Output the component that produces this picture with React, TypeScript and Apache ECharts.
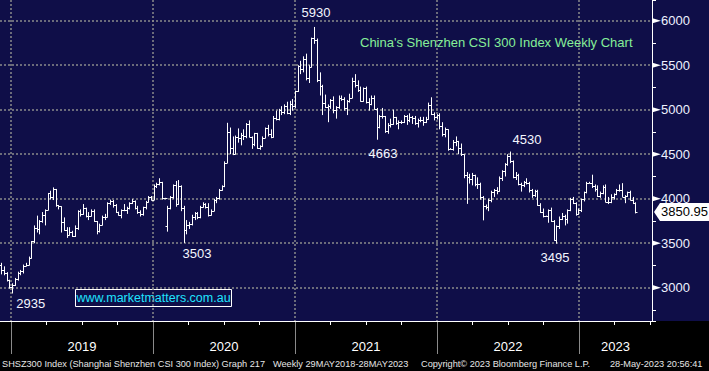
import React, { useEffect, useRef } from "react";
import * as echarts from "echarts";

// Weekly bars: [open, high, low, close], weeks ending on Fridays starting 2018-12-07
const START_DATE = "2018-12-07";

const bars2018 = [
  [3250, 3280, 3150, 3203], [3203, 3240, 3140, 3165], [3165, 3175, 3070, 3083], [3083, 3090, 2990, 3011],
];

const bars2019 = [
  [3011, 3050, 2935, 3035], [3035, 3110, 3020, 3094], [3094, 3180, 3080, 3168], [3168, 3200, 3140, 3184],
  [3184, 3260, 3160, 3247], [3247, 3280, 3240, 3260], [3260, 3350, 3250, 3338], [3338, 3525, 3330, 3520],
  [3520, 3700, 3500, 3670], [3670, 3810, 3620, 3657], [3657, 3760, 3600, 3745], [3745, 3850, 3730, 3820],
  [3820, 3880, 3700, 3872], [3872, 4065, 3870, 4062], [4062, 4090, 3990, 4016], [4016, 4127, 3985, 4105],
  [4105, 4110, 3910, 3929], [3929, 3930, 3880, 3913], [3913, 3915, 3620, 3734], [3734, 3790, 3640, 3648],
  [3648, 3680, 3560, 3593], [3593, 3680, 3590, 3630], [3630, 3640, 3570, 3579], [3579, 3700, 3570, 3668],
  [3668, 3870, 3650, 3858], [3858, 3880, 3800, 3826], [3826, 3940, 3820, 3893], [3893, 3900, 3790, 3808],
  [3808, 3850, 3760, 3808], [3808, 3880, 3800, 3858], [3858, 3880, 3740, 3747], [3747, 3750, 3600, 3633],
  [3633, 3720, 3620, 3710], [3710, 3810, 3700, 3800], [3800, 3830, 3760, 3799], [3799, 3960, 3795, 3948],
  [3948, 3990, 3930, 3972], [3972, 3985, 3900, 3935], [3935, 3940, 3840, 3852], [3852, 3855, 3810, 3814],
  [3814, 3880, 3780, 3874], [3874, 3940, 3860, 3869], [3869, 3910, 3830, 3896], [3896, 3960, 3880, 3952],
  [3952, 3995, 3940, 3974], [3974, 3980, 3880, 3891], [3891, 3920, 3830, 3849], [3849, 3870, 3800, 3828],
  [3828, 3910, 3810, 3902], [3902, 3975, 3880, 3968], [3968, 4030, 3960, 4017], [4017, 4030, 3980, 3990],
];

const bars2020 = [
  [3990, 4160, 3985, 4144], [4144, 4180, 4120, 4164], [4164, 4230, 4150, 4186], [4186, 4190, 3990, 4003],
  [4003, 4010, 3995, 4003], [3690, 3920, 3630, 3899], [3899, 4030, 3880, 4016], [4016, 4160, 4000, 4149],
  [4149, 4200, 3910, 3940], [3940, 4210, 3930, 4138], [4138, 4150, 3860, 3895], [3895, 3920, 3503, 3653],
  [3653, 3760, 3600, 3710], [3710, 3740, 3660, 3713], [3713, 3820, 3700, 3796], [3796, 3850, 3760, 3839],
  [3839, 3850, 3770, 3796], [3796, 3920, 3780, 3912], [3912, 3960, 3900, 3937], [3937, 3950, 3890, 3912],
  [3912, 3950, 3800, 3820], [3820, 3880, 3810, 3867], [3867, 4000, 3860, 3990], [3990, 4020, 3950, 4003],
  [4003, 4110, 3990, 4098], [4098, 4150, 4090, 4138], [4138, 4420, 4130, 4404], [4404, 4853, 4400, 4747],
  [4747, 4800, 4500, 4570], [4570, 4700, 4490, 4505], [4505, 4710, 4500, 4695], [4695, 4790, 4630, 4680],
  [4680, 4740, 4600, 4714], [4714, 4780, 4660, 4705], [4705, 4850, 4680, 4845], [4845, 4880, 4690, 4698],
  [4698, 4700, 4560, 4617], [4617, 4740, 4590, 4735], [4735, 4740, 4560, 4570], [4570, 4600, 4550, 4588],
  [4588, 4700, 4580, 4681], [4681, 4800, 4680, 4792], [4792, 4830, 4700, 4722], [4722, 4780, 4680, 4695],
  [4695, 4930, 4690, 4912], [4912, 4990, 4880, 4901], [4901, 5010, 4880, 4998], [4998, 5040, 4940, 4980],
  [4980, 5060, 4950, 5047], [5047, 5090, 4950, 4963], [4963, 5100, 4940, 5065], [5065, 5120, 4990, 5042],
];

const bars2021 = [
  [5042, 5215, 5020, 5211], [5211, 5500, 5200, 5495], [5495, 5550, 5400, 5458], [5458, 5600, 5420, 5569],
  [5569, 5630, 5330, 5352], [5352, 5500, 5300, 5483], [5483, 5810, 5480, 5808], [5808, 5930, 5740, 5779],
  [5779, 5800, 5310, 5336], [5336, 5420, 5160, 5262], [5262, 5280, 4940, 5080], [5080, 5170, 5020, 5035],
  [5035, 5060, 4860, 5037], [5037, 5120, 5010, 5108], [5108, 5150, 4960, 4994], [4994, 5040, 4900, 5029],
  [5029, 5160, 5010, 5135], [5135, 5160, 5100, 5123], [5123, 5140, 4990, 5014], [5014, 5110, 4940, 5100],
  [5100, 5180, 5080, 5135], [5135, 5360, 5130, 5321], [5321, 5400, 5250, 5283], [5283, 5330, 5200, 5224],
  [5224, 5260, 5090, 5102], [5102, 5250, 5090, 5240], [5240, 5260, 5070, 5082], [5082, 5130, 4990, 5069],
  [5069, 5160, 5050, 5135], [5135, 5160, 5000, 5012], [5012, 5020, 4663, 4811], [4811, 4940, 4790, 4927],
  [4927, 5020, 4900, 4925], [4925, 4930, 4740, 4763], [4763, 4850, 4730, 4828], [4828, 4900, 4800, 4842],
  [4842, 5000, 4830, 4914], [4914, 4920, 4830, 4854], [4854, 4880, 4780, 4861], [4861, 4880, 4840, 4866],
  [4866, 4940, 4850, 4927], [4927, 4940, 4830, 4880], [4880, 4960, 4860, 4923], [4923, 4930, 4840, 4907],
  [4907, 4930, 4830, 4851], [4851, 4900, 4800, 4888], [4888, 4920, 4860, 4890], [4890, 4920, 4820, 4860],
  [4860, 4920, 4850, 4895], [4895, 5080, 4890, 5056], [5056, 5140, 4940, 4954], [4954, 4970, 4880, 4921],
  [4921, 4950, 4890, 4940],
];

const bars2022 = [
  [4940, 4960, 4780, 4818], [4818, 4860, 4700, 4727], [4727, 4800, 4690, 4779], [4779, 4780, 4540, 4564],
  [4564, 4570, 4560, 4564], [4564, 4660, 4540, 4635], [4635, 4700, 4590, 4645], [4645, 4650, 4500, 4575],
  [4575, 4620, 4480, 4497], [4497, 4500, 4230, 4264], [4264, 4300, 3942, 4246], [4246, 4280, 4170, 4222],
  [4222, 4290, 4150, 4263], [4263, 4270, 4140, 4165], [4165, 4240, 4110, 4171], [4171, 4180, 3990, 4021],
  [4021, 4030, 3757, 3921], [3921, 3935, 3880, 3908], [3908, 4000, 3860, 3990], [3990, 4090, 3960, 4076],
  [4076, 4110, 4020, 4094], [4094, 4130, 4050, 4090], [4090, 4250, 4080, 4238], [4238, 4320, 4200, 4311],
  [4311, 4400, 4250, 4394], [4394, 4500, 4370, 4485], [4485, 4530, 4400, 4428], [4428, 4430, 4230, 4246],
  [4246, 4300, 4210, 4268], [4268, 4280, 4150, 4170], [4170, 4180, 4080, 4155], [4155, 4200, 4130, 4191],
  [4191, 4230, 4160, 4177], [4177, 4190, 4070, 4100], [4100, 4110, 4010, 4043], [4043, 4100, 4020, 4083],
  [4083, 4100, 3920, 3932], [3932, 3950, 3840, 3856], [3856, 3890, 3790, 3804], [3804, 3810, 3800, 3804],
  [3804, 3880, 3730, 3871], [3871, 3900, 3740, 3745], [3745, 3760, 3530, 3541], [3541, 3700, 3495, 3688],
  [3688, 3800, 3660, 3777], [3777, 3840, 3760, 3801], [3801, 3820, 3700, 3776], [3776, 3880, 3720, 3870],
  [3870, 4010, 3860, 3998], [3998, 4020, 3940, 3953], [3953, 3960, 3810, 3828], [3828, 3890, 3820, 3872],
];

const bars2023 = [
  [3872, 4000, 3850, 3996], [3996, 4080, 3970, 4075], [4075, 4190, 4060, 4181], [4181, 4190, 4175, 4181],
  [4181, 4270, 4120, 4141], [4141, 4160, 4080, 4107], [4107, 4150, 4020, 4034], [4034, 4080, 4010, 4061],
  [4061, 4150, 4050, 4137], [4137, 4160, 3960, 3968], [3968, 4020, 3940, 3958], [3958, 4050, 3950, 4023],
  [4023, 4060, 3990, 4050], [4050, 4110, 4040, 4101], [4101, 4160, 4080, 4096], [4096, 4175, 4020, 4024],
  [4024, 4040, 3950, 4029], [4029, 4080, 4020, 4079], [4079, 4090, 3980, 3987], [3987, 4020, 3940, 3957],
  [3957, 3960, 3835, 3850.95],
];

// Annotations: text placed at [fractional year, index level]
const annotations = [
  { text: "5930", at: [2021.148, 6087] },
  { text: "4663", at: [2021.62, 4513] },
  { text: "4530", at: [2022.634, 4660] },
  { text: "3503", at: [2020.31, 3379] },
  { text: "2935", at: [2019.139, 2828] },
  { text: "3495", at: [2022.831, 3334] },
];

// Right-axis label levels (marked with a small pointer)
const yLevels = [3000, 3500, 4000, 4500, 5000, 5500, 6000];

const Y_MIN = 2626;
const Y_MAX = 6233;
const X_MIN = 2018.9225;
const X_MAX = 2023.514;

const TITLE = "China's Shenzhen CSI 300 Index Weekly Chart";
const WATERMARK = "www.marketmatters.com.au";
const FOOTER_A = "SHSZ300 Index (Shanghai Shenzhen CSI 300 Index) Graph 217";
const FOOTER_B = "Weekly 29MAY2018-28MAY2023";
const FOOTER_C = "Copyright\u00A9 2023 Bloomberg Finance L.P.";
const FOOTER_D = "28-May-2023 20:56:41";

const FONT = '"Liberation Sans", Arial, sans-serif';
const NAVY = "#0f0e48";
const GRIDC = "#8a8a8a";

function toYear(ms: number) {
  const d = new Date(ms);
  const y = d.getUTCFullYear();
  const s = Date.UTC(y, 0, 1);
  const e = Date.UTC(y + 1, 0, 1);
  return y + (ms - s) / (e - s);
}

export default function App() {
  const ref = useRef<HTMLDivElement>(null);
  useEffect(() => {
    if (!ref.current) return;
    const chart = echarts.init(ref.current, undefined, { renderer: "svg" });
    const all = [...bars2018, ...bars2019, ...bars2020, ...bars2021, ...bars2022, ...bars2023];
    const start = Date.parse(START_DATE + "T00:00:00Z");
    const data = all.map((b, i) => [toYear(start + i * 7 * 86400000), b[0], b[1], b[2], b[3]]);
    const lastClose = all[all.length - 1][3];

    const dotted = { color: GRIDC, width: 1.5, type: [2, 2] as any };
    const labelText = { fontSize: 13, lineHeight: 15, color: "#ffffff", fontFamily: FONT };

    const option: any = {
      animation: false,
      backgroundColor: NAVY,
      grid: [
        { left: 0, top: 0, width: 652, height: 321, containLabel: false, outerBoundsMode: "none" },
        { left: 0, top: 321, width: 652, height: 33, containLabel: false, outerBoundsMode: "none" },
      ],
      xAxis: [
        {
          type: "value",
          gridIndex: 0,
          min: X_MIN,
          max: X_MAX,
          minInterval: 1,
          maxInterval: 1,
          axisLine: { show: true, lineStyle: { color: "#ffffff", width: 1 } },
          axisTick: { show: false },
          minorTick: { show: true, splitNumber: 4, length: 4, lineStyle: { color: "#ffffff", width: 1 } },
          splitLine: { show: true, showMinLine: false, showMaxLine: false, lineStyle: dotted },
          axisLabel: {
            show: true,
            margin: 18,
            showMinLabel: false,
            showMaxLabel: false,
            formatter: (v: number) => (v === 2023 ? `{b|${v}}` : `{a|${v}}`),
            rich: {
              a: { ...labelText, padding: [0, 0, 0, 142] },
              b: { ...labelText, padding: [0, 0, 0, 73] },
            },
          },
        },
        {
          type: "value",
          gridIndex: 1,
          min: X_MIN,
          max: X_MAX,
          minInterval: 1,
          maxInterval: 1,
          axisLine: { show: false },
          axisTick: { show: false },
          axisLabel: { show: false },
          splitLine: { show: true, showMinLine: false, showMaxLine: false, lineStyle: { color: GRIDC, width: 1 } },
        },
      ],
      yAxis: [
        {
          type: "value",
          gridIndex: 0,
          position: "right",
          min: Y_MIN,
          max: Y_MAX,
          minInterval: 500,
          maxInterval: 500,
          axisLine: { show: true, lineStyle: { color: "#ffffff", width: 1 } },
          axisTick: { show: true, length: 4, lineStyle: { color: "#ffffff" } },
          minorTick: { show: true, splitNumber: 2, length: 4, lineStyle: { color: "#ffffff" } },
          splitLine: { show: true, showMinLine: false, showMaxLine: false, lineStyle: dotted },
          axisLabel: {
            show: true,
            margin: 9,
            showMinLabel: false,
            showMaxLabel: false,
            formatter: (v: number) => String(v),
            color: "#eef2ff",
            fontSize: 13,
            fontFamily: FONT,
          },
        },
        { type: "value", gridIndex: 1, show: false, min: 0, max: 1 },
      ],
      series: [
        {
          type: "custom",
          xAxisIndex: 0,
          yAxisIndex: 0,
          clip: false,
          data,
          encode: { x: 0, y: [1, 2, 3, 4] },
          renderItem: (params: any, api: any) => {
            const t = api.value(0);
            const x = Math.round(api.coord([t, api.value(1)])[0]) + 0.5;
            const yo = Math.round(api.coord([t, api.value(1)])[1]) + 0.5;
            const yh = api.coord([t, api.value(2)])[1];
            const yl = api.coord([t, api.value(3)])[1];
            const yc = Math.round(api.coord([t, api.value(4)])[1]) + 0.5;
            const st = { stroke: "#ffffff", lineWidth: 1 };
            return {
              type: "group",
              children: [
                { type: "line", shape: { x1: x, y1: yh, x2: x, y2: yl }, style: st },
                { type: "line", shape: { x1: x - 2, y1: yo, x2: x, y2: yo }, style: st },
                { type: "line", shape: { x1: x, y1: yc, x2: x + 2, y2: yc }, style: st },
              ],
            };
          },
          markPoint: {
            silent: true,
            data: [
              ...annotations.map((a) => ({
                coord: a.at,
                symbol: "circle",
                symbolSize: 1,
                itemStyle: { color: "rgba(0,0,0,0)" },
                label: {
                  show: true,
                  position: "inside",
                  formatter: a.text,
                  color: "#f4f6ff",
                  fontSize: 13,
                  fontFamily: FONT,
                },
              })),
              {
                coord: [X_MAX, lastClose],
                symbol: "path://M0,9L6,0L55,0L55,18L6,18Z",
                symbolSize: [55, 18],
                symbolKeepAspect: false,
                symbolOffset: [29.5, 0],
                itemStyle: { color: "#ffffff" },
                z: 10,
                label: {
                  show: true,
                  position: "inside",
                  offset: [3, 0],
                  formatter: lastClose.toFixed(2),
                  color: "#000000",
                  fontSize: 13,
                  fontFamily: FONT,
                },
              },
            ],
          },
        },
        {
          // small pointers on the right axis at each labelled level
          type: "custom",
          xAxisIndex: 0,
          yAxisIndex: 0,
          clip: false,
          silent: true,
          z: 1,
          data: yLevels.map((v) => [X_MAX, v]),
          encode: { x: 0, y: 1 },
          renderItem: (params: any, api: any) => {
            const p = api.coord([api.value(0), api.value(1)]);
            const x = p[0] + 0.5;
            const y = p[1];
            return {
              type: "polygon",
              shape: { points: [[x, y - 2.6], [x + 8.5, y], [x, y + 2.6]] },
              style: { fill: "#ffffff" },
            };
          },
        },
      ],
      graphic: [
        { type: "rect", z: -1, shape: { x: 0, y: 321, width: 709, height: 50 }, style: { fill: "#000000" } },
        {
          type: "text",
          x: 360,
          y: 42.5,
          style: { text: TITLE, fill: "#86ee98", font: `13px ${FONT}`, verticalAlign: "middle" },
        },
        {
          type: "rect",
          shape: { x: 75.5, y: 289.5, width: 156, height: 17 },
          style: { fill: "rgba(0,0,0,0)", stroke: "#ffffff", lineWidth: 1 },
        },
        {
          type: "text",
          x: 153.5,
          y: 298,
          style: { text: WATERMARK, fill: "#1fe4ff", font: `12.5px ${FONT}`, align: "center", verticalAlign: "middle" },
        },
        { type: "text", x: 2, y: 364, style: { text: FOOTER_A, fill: "#e6e6e6", font: `9.2px ${FONT}`, verticalAlign: "middle" } },
        { type: "text", x: 273, y: 364, style: { text: FOOTER_B, fill: "#e6e6e6", font: `9.2px ${FONT}`, verticalAlign: "middle" } },
        { type: "text", x: 421, y: 364, style: { text: FOOTER_C, fill: "#e6e6e6", font: `9.2px ${FONT}`, verticalAlign: "middle" } },
        { type: "text", x: 610, y: 364, style: { text: FOOTER_D, fill: "#e6e6e6", font: `9.2px ${FONT}`, verticalAlign: "middle" } },
      ],
    };
    chart.setOption(option);
    return () => chart.dispose();
  }, []);
  return (
    <div
      ref={ref}
      style={{ position: "absolute", left: 0, top: 0, width: 709, height: 371 }}
    />
  );
}
